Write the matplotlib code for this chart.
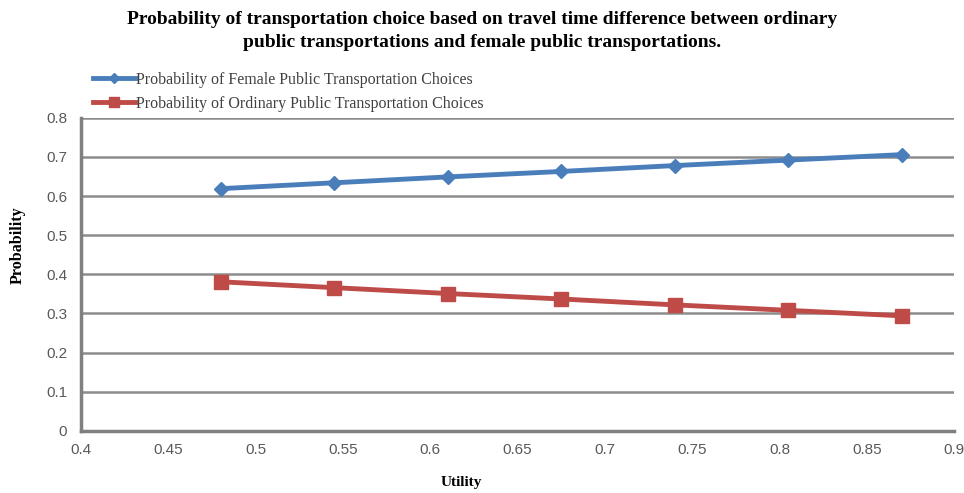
import matplotlib.pyplot as plt

# utility values on the x axis
utility = [0.48, 0.545, 0.61, 0.675, 0.74, 0.805, 0.87]
# probability of choosing female public transportation
female_prob = [0.619, 0.634, 0.649, 0.663, 0.678, 0.692, 0.706]
# probability of choosing ordinary public transportation
ordinary_prob = [0.381, 0.366, 0.351, 0.337, 0.322, 0.308, 0.294]

x_ticks = [0.4, 0.45, 0.5, 0.55, 0.6, 0.65, 0.7, 0.75, 0.8, 0.85, 0.9]
x_tick_labels = ["0.4", "0.45", "0.5", "0.55", "0.6", "0.65", "0.7", "0.75", "0.8", "0.85", "0.9"]
y_ticks = [0, 0.1, 0.2, 0.3, 0.4, 0.5, 0.6, 0.7, 0.8]
y_tick_labels = ["0", "0.1", "0.2", "0.3", "0.4", "0.5", "0.6", "0.7", "0.8"]

serif = ["Liberation Serif", "DejaVu Serif"]
sans = ["Liberation Sans", "DejaVu Sans"]

fig = plt.figure(figsize=(9.64, 4.93), dpi=100)
ax = fig.add_axes([0.084, 0.126, 0.906, 0.635])

ax.plot(utility, female_prob, color="#4A7EBB", linewidth=3.5, marker="D",
        markersize=7, label="Probability of Female Public Transportation Choices", zorder=3)
ax.plot(utility, ordinary_prob, color="#BE4B48", linewidth=3.5, marker="s",
        markersize=10, label="Probability of Ordinary Public Transportation Choices", zorder=3)

ax.set_xlim(0.4, 0.9)
ax.set_ylim(0, 0.8)
ax.set_xticks(x_ticks)
ax.set_xticklabels(x_tick_labels, family=sans, fontsize=11, color="#595959")
ax.set_yticks(y_ticks)
ax.set_yticklabels(y_tick_labels, family=sans, fontsize=11, color="#595959")
ax.tick_params(axis="x", length=0, pad=9)
ax.tick_params(axis="y", length=0, pad=10)

ax.grid(axis="y", color="#8C8C8C", linewidth=1.8)
ax.set_axisbelow(True)
for side in ["top", "right"]:
    ax.spines[side].set_visible(False)
for side in ["left", "bottom"]:
    ax.spines[side].set_color("#808080")
    ax.spines[side].set_linewidth(2.5)

ax.set_xlabel("Utility", family=serif, fontweight="bold", fontsize=11, va="center")
ax.xaxis.set_label_coords(0.436, -0.166)
ax.set_ylabel("Probability", family=serif, fontweight="bold", fontsize=11.5, va="center")
ax.yaxis.set_label_coords(-0.072, 0.594)

fig.suptitle("Probability of transportation choice based on travel time difference between ordinary\n"
             "public transportations and female public transportations.",
             family=serif, fontweight="bold", fontsize=14, x=0.5, y=0.978, linespacing=1.45)

ax.legend(loc="upper left", bbox_to_anchor=(0.09, 0.867), bbox_transform=fig.transFigure,
          frameon=False, prop={"family": serif, "size": 11.5}, handlelength=2.6,
          handletextpad=0.1, labelspacing=0.5, borderaxespad=0, markerscale=0.75,
          labelcolor="#404040")

plt.savefig("out.png", dpi=100)
